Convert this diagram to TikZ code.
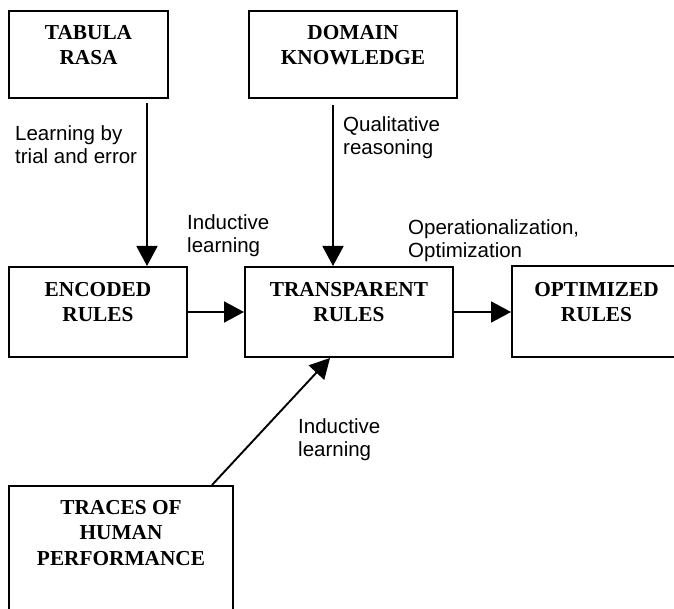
\documentclass[tikz,border=0pt]{standalone}
\usepackage{fontspec}
\setmainfont{Liberation Serif}
\newfontfamily\labelfont{Liberation Sans}
\usetikzlibrary{arrows.meta}
\begin{document}
\begin{tikzpicture}[x=1pt,y=-1pt,
  box/.style={draw,line width=2pt,inner sep=0pt,anchor=north west},
  boxtext/.style={font=\fontsize{21.3}{25.5}\selectfont\bfseries,align=center,inner sep=0pt,anchor=north},
  note/.style={font=\labelfont\fontsize{20.5}{23.5}\selectfont,align=left,inner sep=0pt,anchor=north west},
  flow/.style={line width=1.9pt,-{Triangle[length=20pt,width=21pt]}}]
\useasboundingbox (0,0) rectangle (674,609);
\clip (0,0) rectangle (674,609);

% boxes
\node[box,minimum width=159pt,minimum height=87pt] (tabula) at (8,10) {};
\node[box,minimum width=208pt,minimum height=87pt] (domain) at (248,10) {};
\node[box,minimum width=178pt,minimum height=90pt] (encoded) at (8,266) {};
\node[box,minimum width=208pt,minimum height=90pt] (transparent) at (244,266) {};
\node[box,minimum width=175pt,minimum height=91pt] (optimized) at (511,265) {};
\node[box,minimum width=224pt,minimum height=150pt] (traces) at (8,485) {};

% box titles
\node[boxtext] (tabula-t) at ([yshift=-15pt]tabula.north) {TABULA\\RASA};
\node[boxtext] (domain-t) at ([yshift=-15pt]domain.north) {DOMAIN\\KNOWLEDGE};
\node[boxtext] (encoded-t) at ([yshift=-16pt]encoded.north) {ENCODED\\RULES};
\node[boxtext] (transparent-t) at ([yshift=-16pt]transparent.north) {TRANSPARENT\\RULES};
\node[boxtext] (optimized-t) at ([yshift=-17pt,xshift=-3pt]optimized.north) {OPTIMIZED\\RULES};
\node[boxtext] (traces-t) at ([yshift=-15pt]traces.north) {TRACES OF\\HUMAN\\PERFORMANCE};

% arrow positions
\coordinate (ax) at (147,0);
\coordinate (bx) at (333,0);
\coordinate (cx) at (212,0);
\coordinate (dx) at (330,0);

% connectors
\draw[flow,shorten <=4pt] (tabula.south -| ax) -- (encoded.north -| ax);
\draw[flow,shorten <=6pt] (domain.south -| bx) -- (transparent.north -| bx);
\draw[flow] (encoded.east) -- (transparent.west);
\draw[flow] (transparent.east) -- (optimized.west |- transparent.east);
\draw[flow] (traces.north -| cx) -- (transparent.south -| dx);

% connector labels
\node[note] (l1) at (15,125) {Learning by\\trial and error};
\node[note] (l2) at (343,116) {Qualitative\\reasoning};
\node[note] (l3) at (187,214) {Inductive\\learning};
\node[note] (l4) at (408,219) {Operationalization,\\Optimization};
\node[note] (l5) at (298,418) {Inductive\\learning};
\end{tikzpicture}
\end{document}
